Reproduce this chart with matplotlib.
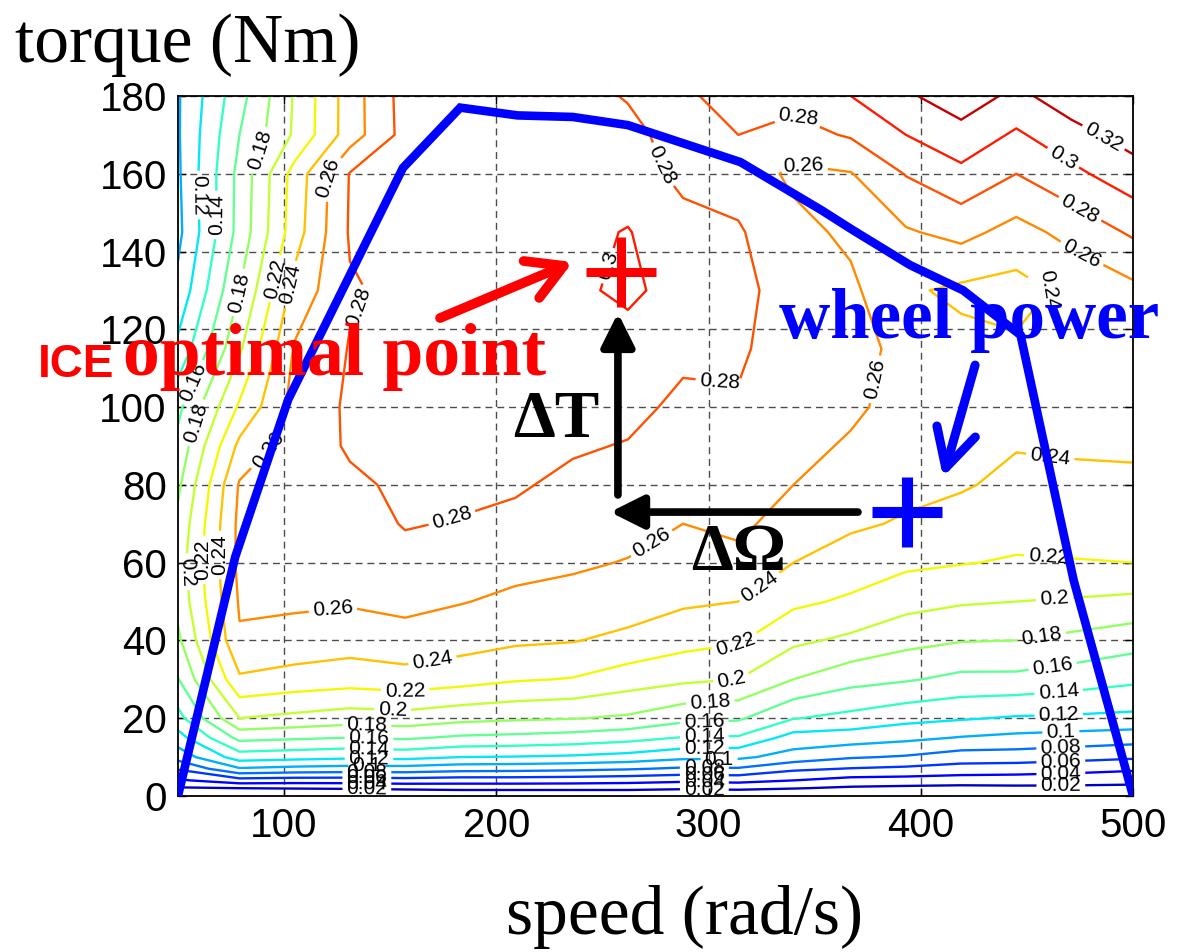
import matplotlib
matplotlib.use("Agg")
import matplotlib.pyplot as plt

# engine efficiency map
speed = [50, 79, 105, 131, 157, 183, 209, 236, 262, 288, 314, 340, 367, 393, 419, 445, 471, 500]
torque = [0, 2, 4, 7, 10, 15, 20, 30, 40, 50, 60, 70, 80, 90, 100, 115, 130, 145, 160, 170, 180]
eff = [
    [0, 0, 0, 0, 0, 0, 0, 0, 0, 0, 0, 0, 0, 0, 0, 0, 0, 0],
    [.018, .020, .021, .022, .024, .026, .026, .026, .026, .023, .025, .021, .017, .015, .014, .015, .015, .014],
    [.037, .052, .050, .050, .052, .050, .050, .049, .047, .044, .046, .040, .033, .032, .030, .030, .029, .027],
    [.062, .098, .094, .092, .092, .088, .087, .085, .082, .077, .078, .064, .059, .056, .052, .050, .047, .043],
    [.088, .130, .127, .124, .126, .120, .119, .117, .113, .105, .104, .092, .082, .078, .070, .070, .067, .063],
    [.112, .166, .163, .160, .163, .157, .155, .152, .147, .139, .138, .112, .110, .105, .099, .095, .092, .089],
    [.133, .200, .195, .190, .192, .186, .183, .181, .177, .166, .163, .141, .134, .126, .122, .118, .117, .115],
    [.159, .237, .232, .229, .232, .228, .222, .219, .210, .204, .200, .180, .167, .162, .155, .155, .150, .144],
    [.176, .258, .253, .249, .253, .248, .243, .241, .235, .227, .222, .204, .196, .186, .181, .180, .175, .168],
    [.186, .262, .263, .262, .265, .261, .256, .253, .250, .243, .240, .224, .217, .207, .202, .200, .198, .195],
    [.190, .265, .267, .268, .275, .272, .266, .263, .259, .253, .255, .240, .231, .224, .221, .218, .219, .220],
    [.185, .265, .270, .273, .281, .279, .276, .270, .267, .260, .264, .252, .243, .238, .232, .228, .228, .228],
    [.176, .262, .272, .277, .283, .284, .282, .276, .273, .266, .270, .260, .250, .245, .242, .235, .236, .236],
    [.166, .245, .270, .282, .284, .286, .286, .282, .279, .272, .275, .265, .258, .250, .246, .241, .242, .243],
    [.155, .223, .267, .283, .285, .287, .288, .287, .285, .276, .278, .268, .263, .254, .248, .246, .246, .247],
    [.125, .197, .262, .281, .285, .288, .290, .292, .290, .284, .283, .270, .265, .256, .246, .243, .246, .252],
    [.105, .180, .247, .278, .285, .288, .290, .295, .305, .290, .285, .272, .264, .243, .236, .233, .245, .255],
    [.095, .167, .231, .282, .284, .287, .289, .295, .301, .287, .282, .266, .256, .258, .266, .253, .266, .283],
    [.097, .166, .228, .281, .285, .286, .287, .290, .290, .275, .272, .256, .259, .281, .295, .280, .295, .312],
    [.098, .160, .203, .250, .287, .285, .286, .288, .284, .274, .280, .273, .282, .300, .313, .297, .313, .328],
    [.098, .153, .202, .250, .288, .284, .284, .285, .279, .277, .287, .287, .300, .317, .331, .315, .331, .338],
]
levels = [0.02, 0.04, 0.06, 0.08, 0.1, 0.12, 0.14, 0.16, 0.18, 0.2, 0.22, 0.24, 0.26, 0.28, 0.3, 0.32]

# wheel power curve
wheel_speed = [50, 77, 102, 156, 183, 210, 236, 262, 315, 353, 368, 395, 420, 447, 472, 500]
wheel_torque = [0, 61.5, 102, 161.5, 177, 175, 174.6, 172.5, 163, 150.7, 145.5, 136.5, 130, 118.5, 55.5, 0]

xticks = [100, 200, 300, 400, 500]
yticks = [0, 20, 40, 60, 80, 100, 120, 140, 160, 180]

# where the contour labels sit (speed, torque)
label_spots = [
    (298, 1.5), (298, 3.1), (298, 4.9), (298, 6.7), (305, 8.7), (298, 11.8), (298, 14.9),
    (298, 18), (301, 22.6), (311, 29), (313, 38), (325, 53), (276, 62.5),
    (139, 1.5), (139, 2.6), (139, 3.9), (139, 5.1), (139, 6.4), (140, 9.3), (140, 12.3),
    (140, 14.4), (139, 17), (151, 21.3), (157, 27.3), (170, 34.5), (123, 48.3),
    (466, 2.8), (466, 5.9), (466, 8.7), (466, 11.8), (466, 16.5), (465, 20), (465, 26.5),
    (462, 33.7), (457, 40.9), (463, 50), (460, 60.7), (461, 87.2),
    (59, 154.5), (65, 149.4), (91, 165.6), (122, 159), (80, 129.3), (94, 133.2),
    (100, 131.9), (133, 126.3), (60, 105.7), (58.5, 96), (53, 57.6), (62, 60.7),
    (67, 62), (92, 89),
    (277, 162), (342, 174.6), (345, 162.8), (247, 137.3), (180, 69.7), (305, 105),
    (384, 106.5), (484, 167.4), (467, 164), (474, 150), (476, 139.6), (465, 128.8),
]

plt.rcParams["font.family"] = ["Liberation Sans", "DejaVu Sans"]
serif = ["Liberation Serif", "DejaVu Serif"]

fig = plt.figure(figsize=(11.8, 9.52), dpi=100)
ax = fig.add_axes([0.1508, 0.1639, 0.8094, 0.7353])

cs = ax.contour(speed, torque, eff, levels=levels, cmap="jet", vmin=0, vmax=0.34,
                linewidths=1.7, zorder=2)
ax.clabel(cs, inline=True, fmt="%g", fontsize=15, colors="k", inline_spacing=4,
          manual=label_spots)

ax.plot(wheel_speed, wheel_torque, color="blue", lw=6.2, solid_joinstyle="miter", zorder=5)

# ICE optimum and operating point
ax.plot(258.8, 134.7, marker="+", ms=50, mew=6.5, color="red", zorder=6)
ax.plot(393.5, 73, marker="+", ms=51, mew=8, color="blue", zorder=6)

ax.annotate("", xy=(236, 137.3), xytext=(173.5, 122.9), zorder=6,
            arrowprops=dict(arrowstyle="->,head_length=0.63,head_width=0.36", color="red",
                            lw=7, mutation_scale=40, shrinkA=0, shrinkB=0))
ax.annotate("", xy=(410.5, 82), xytext=(425.6, 110.8), zorder=6,
            arrowprops=dict(arrowstyle="->,head_length=0.68,head_width=0.36", color="blue",
                            lw=6.5, mutation_scale=40, shrinkA=0, shrinkB=0))
ax.annotate("", xy=(257.3, 124.2), xytext=(257.3, 77.4), zorder=6,
            arrowprops=dict(arrowstyle="-|>,head_length=0.5,head_width=0.25", color="black",
                            lw=5.5, mutation_scale=40, shrinkA=0, shrinkB=0))
ax.annotate("", xy=(253.6, 73), xytext=(370.4, 73), zorder=6,
            arrowprops=dict(arrowstyle="-|>,head_length=0.5,head_width=0.25", color="black",
                            lw=5.5, mutation_scale=40, shrinkA=0, shrinkB=0))

ax.text(228.1, 92.3, "ΔT", fontsize=48, family=serif, weight="bold", ha="center",
        va="baseline", zorder=7)
ax.text(314.1, 58.1, "ΔΩ", fontsize=48, family=serif, weight="bold", ha="center",
        va="baseline", zorder=7)
ax.text(422.8, 117.8, "wheel power", fontsize=51, family=serif, weight="bold", color="blue",
        ha="center", va="baseline", zorder=7)
ax.text(24, 108.3, "optimal point", fontsize=53, family=serif, weight="bold", color="red",
        ha="left", va="baseline", zorder=7)
ax.text(-16, 107.7, "ICE", fontsize=33, weight="bold", color="red", ha="left",
        va="baseline", zorder=7)

ax.set_xlim(50, 500)
ax.set_ylim(0, 180)
ax.set_xticks(xticks)
ax.set_yticks(yticks)
ax.tick_params(direction="in", top=True, right=True, length=6, width=1, labelsize=29)
ax.tick_params(axis="y", pad=8)
ax.tick_params(axis="x", pad=8)
ax.grid(True, color="0.3", linestyle=(0, (5, 3.5)), linewidth=1.0)
for sp in ax.spines.values():
    sp.set_linewidth(1.3)

fig.text(15 / 1180, 1 - 62 / 952, "torque (Nm)", fontsize=50, family=serif, ha="left",
         va="baseline")
fig.text(684 / 1180, 1 - 934 / 952, "speed (rad/s)", fontsize=50, family=serif, ha="center",
         va="baseline")

fig.savefig("out.png", dpi=100)
